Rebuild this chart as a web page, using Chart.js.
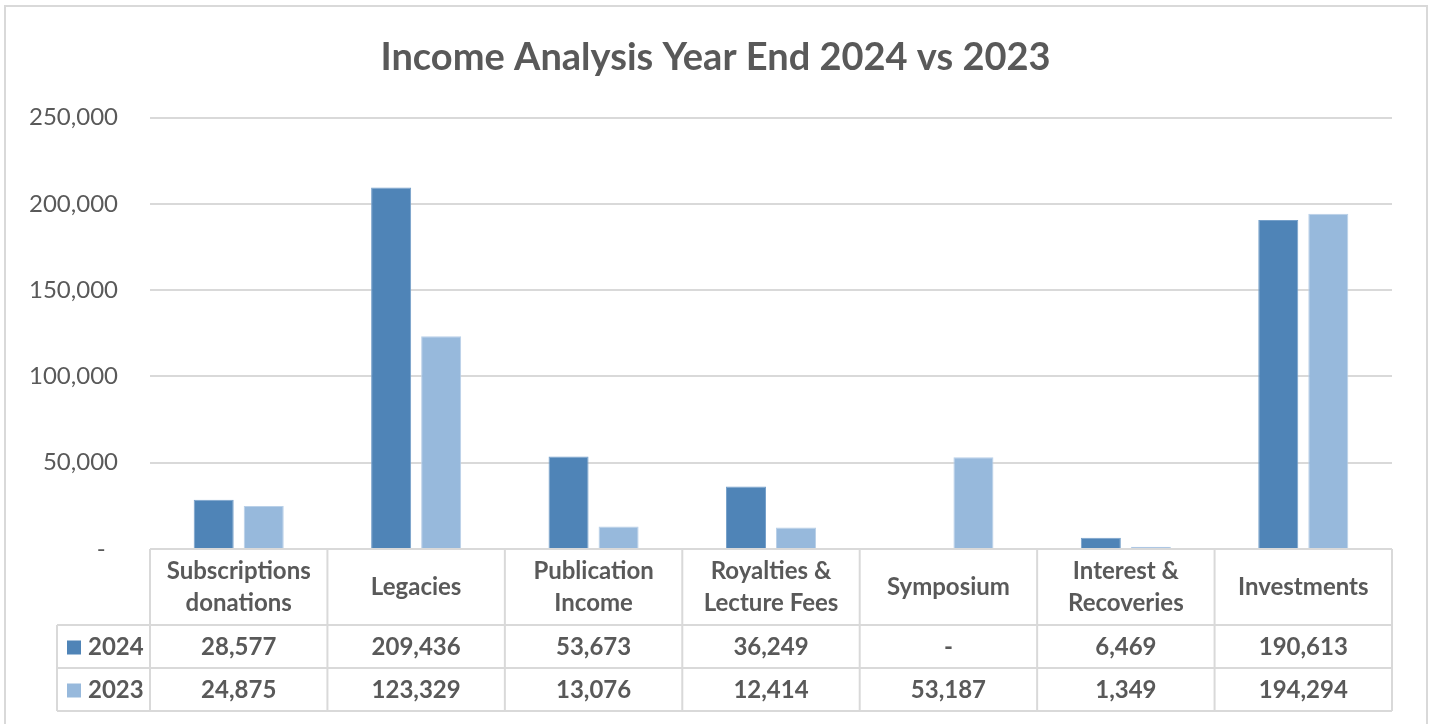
<!DOCTYPE html>
<html>
<head>
<meta charset="utf-8">
<title>Income Analysis Year End 2024 vs 2023</title>
<script src="https://cdn.jsdelivr.net/npm/chart.js@4/dist/chart.umd.min.js"></script>
<style>
  html, body { margin: 0; padding: 0; background: #fff; }
  canvas { display: block; }
</style>
</head>
<body>
<canvas id="chart" width="1431" height="724"></canvas>
<script>
// income categories, each header cell may wrap onto two lines
const categories = [
  ['Subscriptions', 'donations'],
  ['Legacies'],
  ['Publication', 'Income'],
  ['Royalties &', 'Lecture Fees'],
  ['Symposium'],
  ['Interest &', 'Recoveries'],
  ['Investments']
]
const income2024 = [28577, 209436, 53673, 36249, 0, 6469, 190613]
const income2023 = [24875, 123329, 13076, 12414, 53187, 1349, 194294]
const yTicks = [0, 50000, 100000, 150000, 200000, 250000]

const textColor = '#595959'
const lineColor = '#d9d9d9'
const fontFamily = 'Lato, "Open Sans", sans-serif'

function fmt(v){
  return v === 0 ? '-' : v.toLocaleString('en-US')
}

// draws the data table under the plot plus the outer frame
const dataTable = {
  id: 'dataTable',
  afterDraw(chart){
    const {ctx, chartArea} = chart
    const left = chartArea.left
    const right = chartArea.right
    const top = chartArea.bottom
    const n = categories.length
    const colW = (right - left) / n
    const headerH = 76
    const rowH = 43
    const legendLeft = 57
    const rows = chart.data.datasets

    ctx.save()
    ctx.strokeStyle = lineColor
    ctx.lineWidth = 2

    // outer frame
    ctx.strokeRect(5, 6, 1422, 740)

    // horizontal lines
    ctx.beginPath()
    ctx.moveTo(left, top)
    ctx.lineTo(right, top)
    for(let r = 0; r <= rows.length; r++){
      const y = top + headerH + r * rowH
      ctx.moveTo(legendLeft, y)
      ctx.lineTo(right, y)
    }
    // vertical lines
    const bottom = top + headerH + rows.length * rowH
    for(let i = 0; i <= n; i++){
      const x = left + i * colW
      ctx.moveTo(x, top)
      ctx.lineTo(x, bottom)
    }
    ctx.moveTo(legendLeft, top + headerH)
    ctx.lineTo(legendLeft, bottom)
    ctx.stroke()

    ctx.fillStyle = textColor
    ctx.font = 'bold 24px ' + fontFamily
    ctx.textAlign = 'center'
    ctx.textBaseline = 'middle'

    // category headers
    const xs = chart.scales.x
    categories.forEach((lines, i) => {
      const cx = xs.getPixelForValue(i)
      const cy = top + headerH / 2
      const lh = 32
      lines.forEach((t, k) => {
        ctx.fillText(t, cx, cy + (k - (lines.length - 1) / 2) * lh)
      })
    })

    // value rows with legend keys
    rows.forEach((ds, r) => {
      const cy = top + headerH + r * rowH + rowH / 2
      ds.data.forEach((v, i) => {
        ctx.fillText(fmt(v), xs.getPixelForValue(i), cy + 1)
      })
      ctx.fillStyle = ds.backgroundColor
      ctx.fillRect(67, cy - 6, 14, 14)
      ctx.fillStyle = textColor
      ctx.textAlign = 'left'
      ctx.fillText(ds.label, 88, cy + 1)
      ctx.textAlign = 'center'
    })
    ctx.restore()
  }
}

const whiteBackground = {
  id: 'whiteBackground',
  beforeDraw(chart){
    const {ctx} = chart
    ctx.save()
    ctx.fillStyle = '#fff'
    ctx.fillRect(0, 0, chart.width, chart.height)
    ctx.restore()
  }
}

new Chart(document.getElementById('chart'), {
  type: 'bar',
  data: {
    labels: categories.map(c => c.join(' ')),
    datasets: [
      {
        label: '2024',
        data: income2024,
        backgroundColor: '#4f84b7',
        borderColor: '#76a0ca',
        borderWidth: 1
      },
      {
        label: '2023',
        data: income2023,
        backgroundColor: '#97b9dc',
        borderColor: '#b9d0e8',
        borderWidth: 1
      }
    ]
  },
  options: {
    responsive: false,
    animation: false,
    categoryPercentage: 0.564,
    barPercentage: 0.8,
    layout: {
      padding: {left: 0, right: 0, top: 0, bottom: 175}
    },
    plugins: {
      legend: {display: false},
      tooltip: {enabled: false},
      title: {
        display: true,
        text: 'Income Analysis Year End 2024 vs 2023',
        color: textColor,
        font: {family: fontFamily, size: 38, weight: 'bold'},
        padding: {top: 35, bottom: 37}
      }
    },
    scales: {
      x: {
        display: false
      },
      y: {
        min: 0,
        max: 250000,
        afterFit(scale){ scale.width = 150 },
        afterBuildTicks(scale){ scale.ticks = yTicks.map(v => ({value: v})) },
        border: {display: false},
        grid: {color: lineColor, lineWidth: 2, drawTicks: false},
        ticks: {
          color: textColor,
          padding: 32,
          font: {family: fontFamily, size: 24},
          callback: v => v === 0 ? '-  ' : v.toLocaleString('en-US')
        }
      },
      // empty margin on the right so the title stays centred on the canvas
      gap: {
        position: 'right',
        min: 0,
        max: 250000,
        afterFit(scale){ scale.width = 39 },
        border: {display: false},
        grid: {display: false},
        ticks: {display: false}
      }
    }
  },
  plugins: [whiteBackground, dataTable]
})
</script>
</body>
</html>
